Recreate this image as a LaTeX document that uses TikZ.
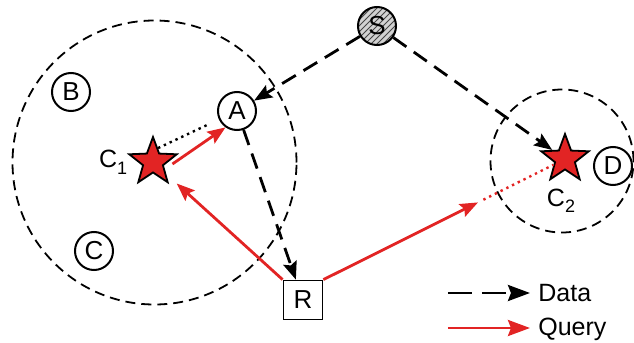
\documentclass[tikz,border=0pt]{standalone}
\usepackage{fontspec}
\setmainfont{Liberation Sans}
\usepackage{xcolor}
\usepackage{tikz}
\usetikzlibrary{positioning,arrows.meta,shapes.geometric,patterns,calc}
\definecolor{qred}{RGB}{226,36,36}
\newcommand{\lowidx}[1]{\raisebox{-0.5ex}{\fontsize{9}{9}\selectfont #1}}

\begin{document}
\begin{tikzpicture}[x=0.5pt, y=-0.5pt, >={Stealth[length=9pt,width=7pt,inset=1.5pt]},
	site/.style={circle, draw, line width=1pt, minimum size=19pt, inner sep=0pt, font=\fontsize{13}{13}\selectfont},
	relay/.style={rectangle, draw, line width=0.9pt, minimum size=19.5pt, inner sep=0pt, font=\fontsize{13}{13}\selectfont},
	hub/.style={star, star points=5, star point ratio=2.4, draw, line width=0.9pt, fill=qred, minimum size=25pt, inner sep=0pt},
	cellzone/.style={circle, draw, line width=0.9pt, dash pattern=on 5pt off 3pt, inner sep=0pt},
	data/.style={->, line width=1.4pt, dash pattern=on 8pt off 4.5pt},
	query/.style={->, qred, line width=1.4pt},
	hint/.style={dotted, line width=1.2pt},
	lbl/.style={font=\fontsize{12.5}{12.5}\selectfont, inner sep=1pt}]
			\useasboundingbox (0,0) rectangle (634,343);

			\node[cellzone, minimum size=142pt] (cell1) at (154.5,162.5) {};
			\node[cellzone, minimum size=71.5pt] (cell2) at (562,161) {};

			\node[site, preaction={fill=gray!35}, pattern=north east lines, pattern color=gray!55!black] (S) at (377,26) {S};
			\node[site] (A) at (237,111) {A};
			\node[site] (B) at (71,92) {B};
			\node[site] (C) at (94,251) {C};
			\node[site] (D) at (613,166) {D};
			\node[relay] (R) at (303,300) {R};

			\node[hub] (C1) at (153,162) {};
			\node[hub] (C2) at (565,159) {};
			\node[lbl] (c1lbl) [left=4pt of C1] {C\lowidx{1}};
			\node[lbl] (c2lbl) [below=8pt of C2, xshift=-2pt] {C\lowidx{2}};

			\coordinate (qend) at ($(R.north east)!0.64!(C2)$);

			\path
			(S) edge[data] (A)
			(S) edge[data] (C2)
			(A) edge[data] (R)
			(C1.70) edge[hint, shorten >=5pt] (A.205)
			([shift={(4,2)}]C1.east) edge[query] (A.235)
			(R.north west) edge[query, shorten >=7pt] (C1)
			(R.north east) edge[query] (qend)
			(qend) edge[hint, qred, shorten <=3pt] (C2);

			% legend
			\coordinate (dl0) at (448,293);
			\coordinate (ql0) at (448,328);
			\node[lbl, anchor=west] (datalbl) at (536,293) {Data};
			\node[lbl, anchor=west] (querylbl) at (536,329) {Query};
			\draw[data, dash pattern=on 12pt off 5pt, -{Stealth[length=11pt,width=8pt,inset=1.5pt]}, shorten >=3pt] (dl0) -- (datalbl);
			\draw[query, -{Stealth[length=11pt,width=8pt,inset=1.5pt]}, shorten >=3pt] (ql0) -- (ql0 -| querylbl.west);

		\end{tikzpicture}
\end{document}
